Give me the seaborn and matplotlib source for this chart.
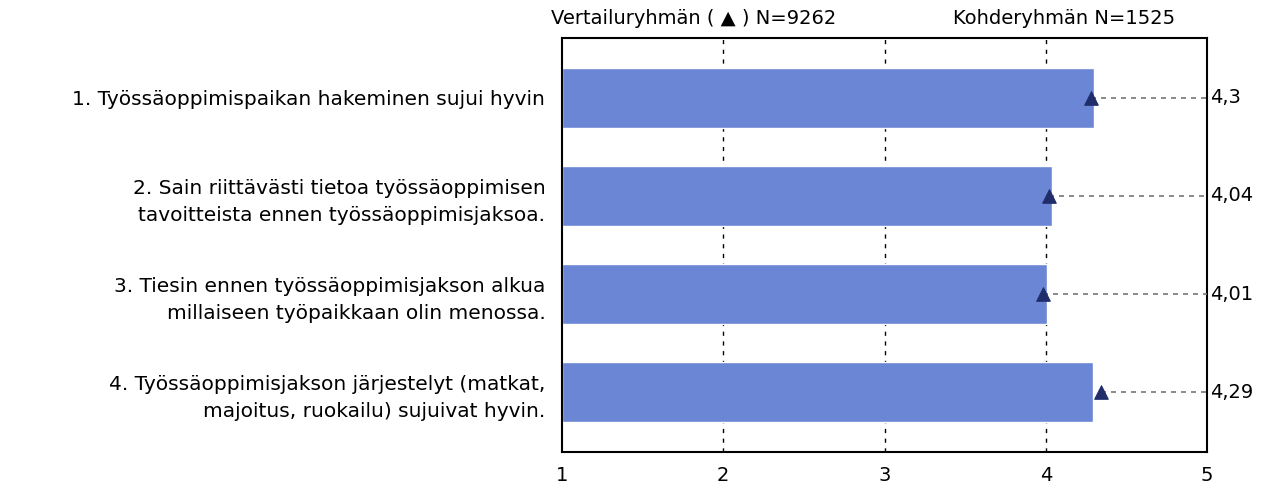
import numpy as np
import pandas as pd
import matplotlib
matplotlib.use("Agg")
import matplotlib.pyplot as plt
import seaborn as sns

# chart data
items = [
    "1. Työssäoppimispaikan hakeminen sujui hyvin",
    "2. Sain riittävästi tietoa työssäoppimisen\ntavoitteista ennen työssäoppimisjaksoa.",
    "3. Tiesin ennen työssäoppimisjakson alkua\nmillaiseen työpaikkaan olin menossa.",
    "4. Työssäoppimisjakson järjestelyt (matkat,\nmajoitus, ruokailu) sujuivat hyvin.",
]
target_means = [4.3, 4.04, 4.01, 4.29]
comparison_means = [4.28, 4.02, 3.98, 4.34]
value_labels = ["4,3", "4,04", "4,01", "4,29"]
x_ticks = [1, 2, 3, 4, 5]
header_left = "Vertailuryhmän ( ▲ ) N=9262"
header_right = "Kohderyhmän N=1525"

df = pd.DataFrame({"item": items, "target": target_means, "comparison": comparison_means})

sns.set_style("white")
plt.rcParams["font.family"] = ["DejaVu Sans"]
plt.rcParams["text.color"] = "black"

fig = plt.figure(figsize=(12.71, 4.9), dpi=100)
ax = fig.add_axes([0.4422, 0.0776, 0.5075, 0.845])

# dashed vertical grid behind bars
for xv in [2, 3, 4]:
    ax.axvline(xv, color="black", linestyle=(0, (3, 4)), linewidth=1, zorder=0)

# bars start at 1 -> draw widths relative to 1
df["width"] = df["target"] - 1
sns.barplot(data=df, x="width", y="item", orient="h", color="#6a86d4",
            saturation=1, width=0.615, left=1, ax=ax, zorder=2)

# dashed lines from comparison marker to right edge
ypos = np.arange(len(items))
ax.hlines(ypos, df["comparison"], 5, colors="#777777", linestyles=(0, (3, 3)),
          linewidth=1.2, zorder=3)
sns.scatterplot(x=df["comparison"], y=ypos, marker="^", s=95, color="#1f2d6b",
                edgecolor="#1f2d6b", ax=ax, zorder=4, legend=False)

for y, lab in zip(ypos, value_labels):
    ax.text(5.02, y, lab, ha="left", va="center", fontsize=14, color="black",
            clip_on=False)

ax.set_xlim(1, 5)
ax.set_ylim(3.61, -0.61)
ax.set_xticks(x_ticks)
ax.set_xticklabels([str(t) for t in x_ticks], fontsize=14, color="black")
ax.set_yticks(ypos)
ax.set_yticklabels(items, fontsize=14.5, linespacing=1.55, color="black")
ax.tick_params(axis="x", direction="out", length=8, width=1, color="black", pad=2)
ax.tick_params(axis="y", length=0, pad=12)
ax.set_xlabel("")
ax.set_ylabel("")
for sp in ax.spines.values():
    sp.set_visible(True)
    sp.set_color("black")
    sp.set_linewidth(1.5)

fig.text(694 / 1271, 1 - 19 / 490, header_left, ha="center", va="center", fontsize=14)
fig.text(1064 / 1271, 1 - 19 / 490, header_right, ha="center", va="center", fontsize=14)

fig.savefig("out.png", dpi=100, facecolor="white")
